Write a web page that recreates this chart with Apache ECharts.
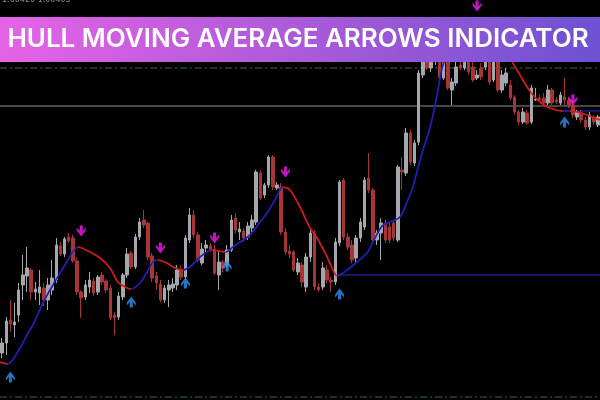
<!DOCTYPE html>
<html>
<head>
<meta charset="utf-8">
<style>html,body{margin:0;padding:0;background:#000;}#chart{width:600px;height:400px;}</style>
<script src="https://cdn.jsdelivr.net/npm/echarts@6/dist/echarts.min.js"></script>
</head>
<body>
<div id="chart"></div>
<script>
// Price units: points above the bottom of the chart window
const openP = [
 47,57,80,75,85,115,124,130,108,107,
 112,100,110,120,154,146,163,162,139,108,
 103,113,119,108,125,119,112,85,83,103,
 125,147,133,163,180,177,144,124,116,100,
 110,112,115,130,123,160,185,165,137,152,
 154,151,125,138,135,150,182,168,169,163,
 172,178,227,205,215,243,212,213,168,149,
 148,128,135,113,143,167,113,113,130,120,
 118,157,220,163,155,142,162,173,222,210,
 160,167,177,173,177,160,230,227,267,237,
 258,325,338,332,340,345,322,350,310,317,
 335,332,340,333,322,332,333,345,320,345,
 310,317,315,303,288,278,287,278,300,302,
 302,297,310,300,297,303,300,295,283,287,
 280,273,283,275];
const closeP = [
 57,79,76,78,110,125,132,108,111,113,
 100,115,122,155,146,161,159,139,108,102,
 115,120,107,123,118,110,82,82,104,125,
 146,133,163,178,175,143,122,117,100,112,
 115,116,130,123,162,185,165,140,151,155,
 150,127,138,132,150,180,170,171,162,174,
 180,228,202,215,243,213,215,168,148,146,
 130,137,118,143,167,113,110,132,120,118,
 158,218,163,153,140,162,178,220,210,160,
 167,177,160,160,162,233,228,267,238,257,
 327,338,332,345,355,322,350,312,318,333,
 332,340,328,320,325,323,345,318,345,310,
 325,327,302,288,278,288,277,312,301,300,
 297,310,297,298,305,300,295,285,288,280,
 273,285,278,283];
const highP = [
 62,83,100,97,117,145,153,132,118,130,
 117,122,140,162,158,163,167,165,142,110,
 120,128,122,125,128,121,115,88,108,127,
 152,149,166,182,190,178,147,128,120,115,
 120,122,135,134,165,192,190,168,157,160,
 157,155,150,140,155,185,187,178,172,178,
 185,230,230,217,245,245,218,217,172,155,
 150,142,138,147,170,170,117,138,135,123,
 162,220,222,167,160,165,182,223,247,212,
 170,182,180,178,180,235,243,272,270,260,
 330,345,350,350,360,355,355,355,322,340,
 342,350,348,338,330,337,350,350,350,350,
 330,332,320,305,290,292,290,315,312,305,
 307,315,312,303,308,322,303,300,290,290,
 283,288,285,285];
const lowP = [
 42,45,68,63,78,100,108,100,100,95,
 94,90,105,117,144,143,157,137,105,82,
 100,107,104,105,115,107,80,65,80,100,
 122,131,131,160,172,140,118,110,98,97,
 93,108,110,120,120,157,162,138,135,148,
 148,125,110,128,132,148,167,160,158,160,
 168,175,200,202,212,210,210,165,145,142,
 128,125,113,108,138,110,108,110,117,108,
 115,154,160,150,137,138,158,170,207,157,
 155,140,157,157,159,158,210,224,235,234,
 255,322,330,328,335,320,320,310,295,314,
 330,330,325,318,320,320,330,315,318,308,
 307,314,300,285,275,276,275,276,299,298,
 295,295,295,296,295,295,292,282,280,277,
 270,270,275,273];

// Hull moving average, read as [bar position, price]
const hullPts = [[-0.5,38],[1.4,36],[4.3,52],[6.2,67],[7.4,75],[9.8,97],[12.2,115],[15.1,135],[16.8,147],[18.2,153],
 [21.1,148],[23.5,142],[25.9,132],[27.8,118],[30,112],[30.9,111],[33.1,117],[34.8,128],[36.2,138],[37.4,140],
 [39.6,137],[41,133],[43.4,130],[45.6,135],[47.5,143],[50.4,150],[52.1,149],[53.7,148],[55.4,153],[59.5,165],
 [61.4,175],[63.6,187],[65.5,200],[67.4,213],[69.1,210],[71.5,193],[73.9,172],[75.6,162],[78,143],[79.4,130],
 [80.4,124],[82.8,130],[85.2,138],[87.6,147],[89,158],[91.2,174],[93.1,178],[95.5,183],[97.2,198],[98.6,213],
 [99.8,232],[101,250],[102.7,272],[104.4,305],[105.8,335],[108.7,365],[111.6,378],[114.7,382],[118.3,372],[121.2,352],
 [122.6,337],[124.3,325],[126,313],[127.4,305],[129.1,298],[130.8,293],[132.2,291],[134.6,289],[136.3,289],[138,288],
 [140.4,285],[143.5,280]];
// bar positions where the Hull colour flips (starts falling / red)
const hullTurns = [1.4,18.2,30.9,37.4,43.4,50.4,53.7,67.4,80.4,114.7,134.6,136.3];

const upArrows = [[2,23],[31,98],[44,117],[54,134],[81,106],[135,278]];
const downArrows = [[19,169],[38,152],[51,162],[68,228],[114,394],[137,300]];

const blueLevels = [[80.4,125],[134.6,289]];
const greyLevel = 294;
const greenLevels = [332,3];

const titleText = 'HULL MOVING AVERAGE ARROWS INDICATOR';
const quoteText = '1.00420 1.00403';

const N = openP.length;
const bars = openP.map((_, i) => String(i + 1));
const candles = openP.map((o, i) => [o, closeP[i], lowP[i], highP[i]]);
const RED = '#d41a1a', BLUE = '#2020b8';
const pieces = [];
let prev = null;
hullTurns.forEach((t, k) => {
  const p = {color: k % 2 === 0 ? RED : BLUE, lt: t};
  if (prev !== null) p.gte = prev;
  pieces.push(p); prev = t;
});
pieces.push({gte: prev, color: hullTurns.length % 2 === 0 ? RED : BLUE});

const xEnd = N - 0.5;
const lineSeries = [];
blueLevels.forEach(l => lineSeries.push({type:'line', xAxisIndex:1, data:[[l[0], l[1]],[xEnd, l[1]]], showSymbol:false, silent:true, z:1,
  lineStyle:{color:'#1c1c8a', width:1.5}}));
lineSeries.push({type:'line', xAxisIndex:1, data:[[-0.5, greyLevel],[xEnd, greyLevel]], showSymbol:false, silent:true, z:1,
  lineStyle:{color:'#8c8c8c', width:1}});
greenLevels.forEach(v => lineSeries.push({type:'line', xAxisIndex:1, data:[[-0.5, v],[xEnd, v]], showSymbol:false, silent:true, z:1,
  lineStyle:{color:'#2f6e3a', width:1, type:[7,3,2,3]}}));

const arrowPath = 'path://M5,0 L10,5.4 L10,8.2 L6.7,5 L6.7,10 L3.3,10 L3.3,5 L0,8.2 L0,5.4 Z';

const chart = echarts.init(document.getElementById('chart'), null, {renderer:'canvas'});
chart.setOption({
  backgroundColor: '#000000',
  animation: false,
  grid: {left:0, right:0, top:0, bottom:0},
  xAxis: [
    {type:'category', data: bars, boundaryGap:true, show:false},
    {type:'value', min:-0.5, max:xEnd, show:false}
  ],
  yAxis: {type:'value', min:0, max:400, show:false},
  visualMap: {show:false, type:'piecewise', seriesIndex: lineSeries.length + 1, dimension:0, pieces: pieces},
  series: [
    ...lineSeries,
    {type:'candlestick', xAxisIndex:0, data: candles, barWidth:3, z:2,
      itemStyle:{color:'#a4a7ac', color0:'#a83535', borderColor:'#a4a7ac', borderColor0:'#a83535', borderWidth:1}},
    {type:'line', xAxisIndex:1, data: hullPts, smooth:0.3, showSymbol:false, z:3, lineStyle:{width:1.7}},
    {type:'scatter', xAxisIndex:1, data: upArrows, symbol: arrowPath, symbolSize:[9,11], z:4,
      itemStyle:{color:'#2f8ff0'}},
    {type:'scatter', xAxisIndex:1, data: downArrows, symbol: arrowPath, symbolSize:[9,11], symbolRotate:180, z:4,
      itemStyle:{color:'#f01cf0'}}
  ],
  graphic: [
    {type:'text', left:2, top:-4, z:50, style:{text: quoteText, fill:'#8a8a8a', fontSize:8, fontFamily:'DejaVu Sans'}},
    {type:'rect', z:100, shape:{x:0, y:17, width:600, height:45},
      style:{fill:{type:'linear', x:0, y:0, x2:1, y2:0, colorStops:[
        {offset:0, color:'#e563e6'}, {offset:0.5, color:'#ab5ad9'}, {offset:1, color:'#6c52d2'}]}}},
    {type:'text', z:101, x:298, y:39, style:{text: titleText, align:'center', verticalAlign:'middle',
      fill:'#ffffff', fontSize:26, fontWeight:600, fontFamily:'Inter'}}
  ]
});
</script>
</body>
</html>
